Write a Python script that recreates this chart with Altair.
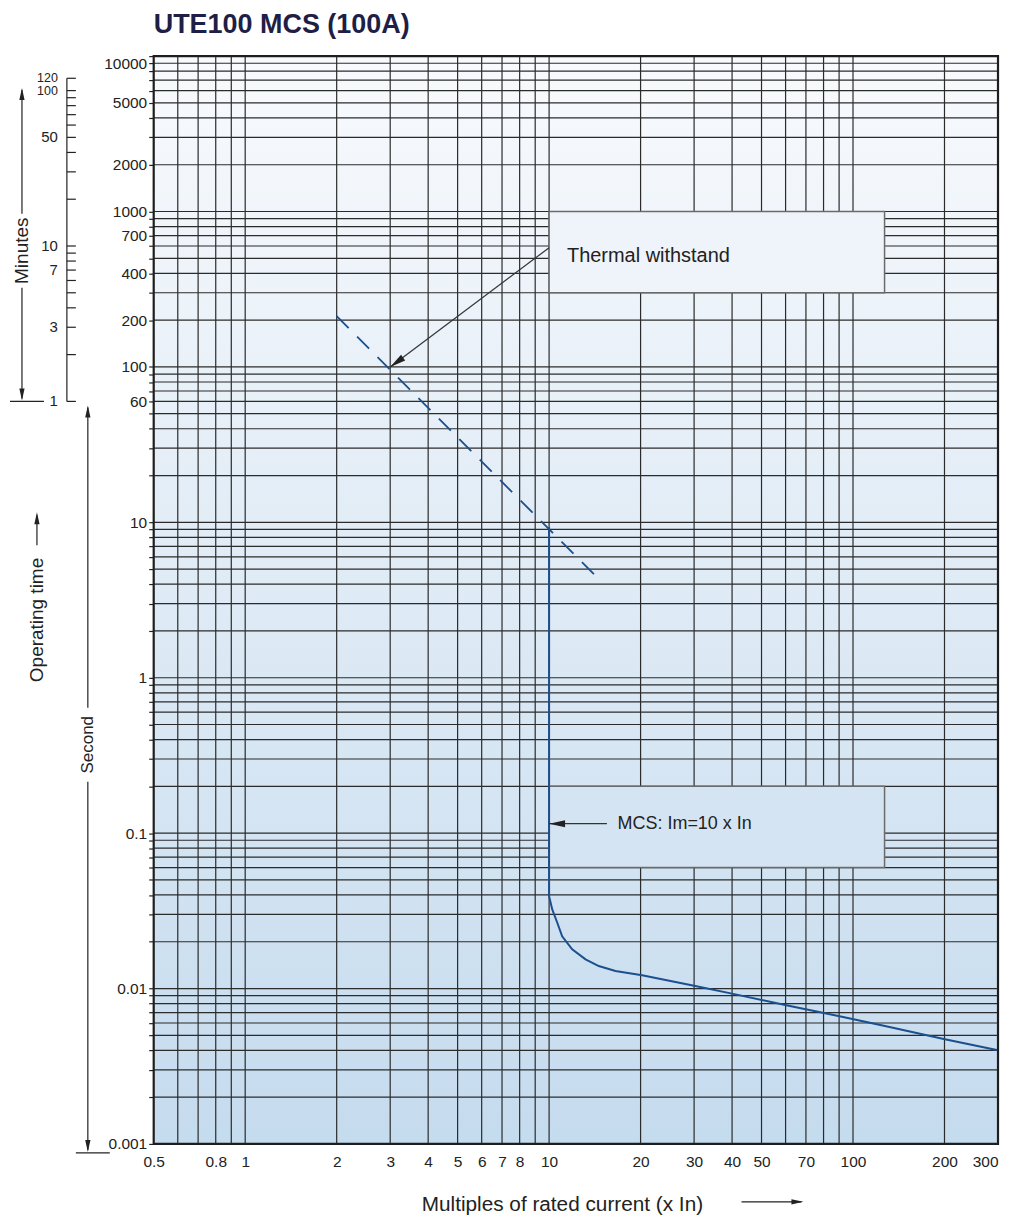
import altair as alt
import pandas as pd

# ---------------- data ----------------
TITLE = "UTE100 MCS (100A)"
X_TITLE = "Multiples of rated current (x In)"

X_LABELS = [0.5, 0.8, 1, 2, 3, 4, 5, 6, 7, 8, 10, 20, 30, 40, 50, 70, 100, 200, 300]
X_GRID = [0.6, 0.7, 0.8, 0.9, 1, 2, 3, 4, 5, 6, 7, 8, 9, 10,
          20, 30, 40, 50, 60, 70, 80, 90, 100, 200]

MANTISSAS = [1, 2, 3, 4, 5, 6, 7, 8, 9]
DECADES = [0.001, 0.01, 0.1, 1, 10, 100, 1000]
Y_GRID = [round(m * d, 6) for d in DECADES for m in MANTISSAS] + [10000]
Y_LABELS = [10000, 5000, 2000, 1000, 700, 400, 200, 100, 60, 10, 1, 0.1, 0.01, 0.001]

MIN_TICKS = [1, 2, 3, 4, 5, 6, 7, 8, 9, 10, 20, 30, 40, 50, 60, 70, 80, 90, 100, 120]
MIN_LABELS = [1, 3, 7, 10, 50, 100, 120]
MIN_LABEL_SIZE = [15, 15, 15, 15, 15, 12.5, 12.5]

# thermal withstand (dashed)
THERMAL_X = [2, 14.6]
THERMAL_T = [212, 4.3]

# MCS tripping curve
MCS_X = [10, 10, 10.24, 10.64, 11.04, 11.91, 13.18, 14.57, 16.53, 20.23,
         30.28, 39.96, 59.8, 89.5, 127.4, 200.6, 300]
MCS_T = [9.3, 0.0393, 0.0323, 0.0265, 0.0217, 0.01786, 0.0154, 0.01395, 0.01296,
         0.01216, 0.01038, 0.00927, 0.00783, 0.00666, 0.00574, 0.00472, 0.00401]

# annotation boxes and texts
BOX_NAMES = ["Thermal withstand", "MCS: Im=10 x In"]
BOX_X1 = [10, 10]
BOX_X2 = [127, 127]
BOX_T1 = [1000, 0.2]
BOX_T2 = [300, 0.06]
BOX_FILL = ["#eff4fa", "#d5e4f2"]
TEXT_X = [11.45, 16.8]
TEXT_T = [519, 0.115]
TEXT_SIZE = [20, 18]

# annotation arrows (start -> tip) in data units
ARROW_X1 = [10, 15.5]
ARROW_T1 = [585, 0.115]
ARROW_X2 = [3, 10]
ARROW_T2 = [100, 0.115]
ARROW_ANGLE = [234, 270]

# ---------------- layout ----------------
W, H = 846, 1090
FONT = "Liberation Sans"
INK = "#222222"
CURVE = "#1b4f8e"
GRID = "#2b2b2b"
HEAD = "M0,0L-0.22,1L0.22,1Z"

XS = alt.Scale(type="log", domain=[0.5, 300], nice=False)
YS = alt.Scale(type="log", domain=[0.001, 10000], nice=False)

label_list = ",".join(str(v) for v in Y_LABELS)

AX_X = alt.Axis(
    values=X_LABELS, format="~g", ticks=False, grid=False, domain=False,
    labelFont=FONT, labelFontSize=15.5, labelColor=INK, labelPadding=11,
    labelOverlap=False, labelFlush=False,
    labelAlign={"condition": {"test": "datum.value >= 300", "value": "right"},
                "value": "center"},
    title=X_TITLE, titleFont=FONT, titleFontSize=20.8, titleFontWeight="normal",
    titleColor=INK, titleX=409, titleY=67, titleAlign="center",
    titleBaseline="alphabetic")

AX_Y = alt.Axis(
    values=Y_GRID, format="~g", grid=False, domain=False,
    tickSize=5, tickColor=INK, tickWidth=1.2,
    labelExpr=f"indexof([{label_list}], datum.value) >= 0 ? datum.label : ''",
    labelBaseline={"condition": {"test": "datum.value >= 10000", "value": "top"},
                   "value": "middle"},
    labelFont=FONT, labelFontSize=15.5, labelColor=INK, labelPadding=2,
    labelOverlap=False, labelFlush=False, title=None)


def X(field="x"):
    return alt.X(f"{field}:Q", scale=XS, axis=AX_X)


def Y(field="t"):
    return alt.Y(f"{field}:Q", scale=YS, axis=AX_Y)


one = pd.DataFrame({"a": [0]})
full = pd.DataFrame({"x": [0.5], "x2": [300], "t": [0.001], "t2": [10000]})

# background with gradient
bg = alt.Chart(full).mark_rect(
    fill=alt.LinearGradient(
        gradient="linear",
        stops=[alt.GradientStop(color="#f8fafd", offset=0),
               alt.GradientStop(color="#c5dbee", offset=1)],
        x1=0, x2=0, y1=0, y2=1),
).encode(x=X(), x2="x2:Q", y=Y(), y2="t2:Q")

vgrid = alt.Chart(pd.DataFrame({"x": X_GRID})).mark_rule(
    color=GRID, strokeWidth=1.2).encode(x=X(), y=alt.value(0), y2=alt.value(H))
hgrid = alt.Chart(pd.DataFrame({"t": Y_GRID})).mark_rule(
    color=GRID, strokeWidth=1.2).encode(y=Y(), x=alt.value(0), x2=alt.value(W))

boxes = alt.Chart(pd.DataFrame({"x": BOX_X1, "x2": BOX_X2, "t": BOX_T1, "t2": BOX_T2,
                                "fill": BOX_FILL})).mark_rect(
    stroke="#6b6b6b", strokeWidth=1.5).encode(
    x=X(), x2="x2:Q", y=Y(), y2="t2:Q", fill=alt.Fill("fill:N", scale=None))

box_text = alt.Chart(pd.DataFrame({"x": TEXT_X, "t": TEXT_T, "s": BOX_NAMES,
                                   "size": TEXT_SIZE})).mark_text(
    align="left", baseline="middle", font=FONT, color=INK).encode(
    x=X(), y=Y(), text="s:N", size=alt.Size("size:Q", scale=None))

thermal = alt.Chart(pd.DataFrame({"x": THERMAL_X, "t": THERMAL_T})).mark_line(
    color=CURVE, strokeWidth=1.8, strokeDash=[17, 12]).encode(x=X(), y=Y())

mcs = alt.Chart(pd.DataFrame({"x": MCS_X, "t": MCS_T, "i": list(range(len(MCS_X)))})).mark_line(
    color=CURVE, strokeWidth=2).encode(x=X(), y=Y(), order="i:Q")

arrow_lines = alt.Chart(pd.DataFrame({"x": ARROW_X1, "t": ARROW_T1, "x2": ARROW_X2,
                                      "t2": ARROW_T2})).mark_rule(
    color="#333333", strokeWidth=1.2).encode(x=X(), y=Y(), x2="x2:Q", y2="t2:Q")

arrow_heads = alt.Chart(pd.DataFrame({"x": ARROW_X2, "t": ARROW_T2, "ang": ARROW_ANGLE})).mark_point(
    shape=HEAD, filled=True, size=1024, color="#222222", opacity=1).encode(
    x=X(), y=Y(), angle=alt.Angle("ang:Q", scale=None))

frame = alt.Chart(full).mark_rect(
    filled=False, stroke="#1e1e1e", strokeWidth=2.2).encode(x=X(), x2="x2:Q", y=Y(), y2="t2:Q")

# minutes scale (same y scale, minutes converted to seconds)
min_ticks = alt.Chart(pd.DataFrame({"m": MIN_TICKS})).transform_calculate(
    t="datum.m * 60").mark_rule(color=INK, strokeWidth=1.2).encode(
    y=Y(), x=alt.value(-87), x2=alt.value(-78))
min_axis = alt.Chart(pd.DataFrame({"m1": [min(MIN_TICKS)], "m2": [max(MIN_TICKS)]})).transform_calculate(
    t="datum.m1 * 60", t2="datum.m2 * 60").mark_rule(color=INK, strokeWidth=1.2).encode(
    y=Y(), y2="t2:Q", x=alt.value(-87))
min_labels = alt.Chart(pd.DataFrame({"m": MIN_LABELS, "size": MIN_LABEL_SIZE})).transform_calculate(
    t="datum.m * 60").mark_text(align="right", baseline="middle", font=FONT,
                                color=INK).encode(
    y=Y(), x=alt.value(-96), text="m:N", size=alt.Size("size:Q", scale=None))


def px_rule(x1, y1, x2, y2):
    return alt.Chart(one).mark_rule(color=INK, strokeWidth=1.2).encode(
        x=alt.value(x1), y=alt.value(y1), x2=alt.value(x2), y2=alt.value(y2))


def px_head(x, y, ang):
    return alt.Chart(one).mark_point(shape=HEAD, filled=True, size=576, color=INK,
                                     opacity=1, angle=ang).encode(
        x=alt.value(x), y=alt.value(y))


def px_text(x, y, s, size):
    return alt.Chart(one).mark_text(text=s, angle=270, align="center", baseline="middle",
                                    font=FONT, fontSize=size, color=INK).encode(
        x=alt.value(x), y=alt.value(y))


deco = [
    # Minutes
    px_text(-132, 195, "Minutes", 19),
    px_rule(-132, 158, -132, 34), px_head(-132, 32, 0),
    px_rule(-132, 232, -132, 343), px_head(-132, 345, 180),
    px_rule(-144, 346, -110, 346),
    # Operating time
    px_text(-117, 565, "Operating time", 19),
    px_rule(-117, 490, -117, 460), px_head(-117, 457, 0),
    # Second
    px_text(-66, 690, "Second", 17),
    px_rule(-66, 653, -66, 352), px_head(-66, 350, 0),
    px_rule(-66, 727, -66, 1096), px_head(-66, 1098, 180),
    px_rule(-78, 1099, -44, 1099),
    # x title arrow
    px_rule(589, 1148, 649, 1148), px_head(651, 1148, 90),
]

chart = alt.layer(
    bg, vgrid, hgrid, boxes, box_text, thermal, mcs, arrow_lines, arrow_heads, frame,
    min_axis, min_ticks, min_labels, *deco,
).properties(
    width=W, height=H,
    title=alt.Title(TITLE, anchor="start", frame="group", font=FONT, fontSize=27,
                    fontWeight="bold", color="#1e1e46", offset=16),
    autosize=alt.AutoSizeParams(type="none"),
    padding={"left": 146, "top": 47, "right": 4, "bottom": 70},
).configure_view(stroke=None)

chart.save("out.html", embed_options={"renderer": "svg", "actions": False})
